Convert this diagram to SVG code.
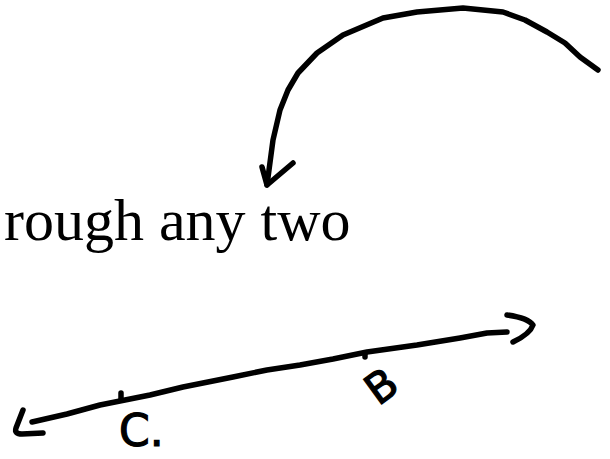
<svg xmlns="http://www.w3.org/2000/svg" width="610" height="459" viewBox="0 0 610 459">
<style>
.ink{fill:none;stroke:#000;stroke-width:5.5;stroke-linecap:round;stroke-linejoin:round}
.typed{font-family:"Liberation Serif","Times New Roman",serif;font-size:60px;fill:#000}
.hand{font-family:"DejaVu Sans","Liberation Sans",sans-serif;fill:#000;stroke:#000;stroke-width:1.2}
</style>
<rect width="610" height="459" fill="#fff"/>
<g id="caption">
<text class="typed" x="4" y="240">rough any two</text>
</g>
<g id="point-C">
<text class="hand" x="119" y="446" font-size="44">C.</text>
</g>
<g id="point-B">
<text class="hand" font-size="42" transform="translate(381,386) rotate(-36)" text-anchor="middle" dy="15">B</text>
</g>
<g id="connectors">
<path class="ink" d="M598,70 L580,57 L565,43 L547,32 L525,20 L503,12 L463,8 L417,12 L383,18 L343,35 L317,53 L298,73 L288,90 L280,110 L273,140 L267,185"/>
<path class="ink" d="M262,167 L267,185 L293,163"/>
<path class="ink" d="M32,422 L67,414 L100,405 L150,395 L183,387 L233,377 L267,370 L300,365 L333,359 L367,352 L417,345 L460,338 L487,333 L507,332"/>
<path class="ink" d="M23,410 L16,428 Q14,434 22,434 L43,433"/>
<path class="ink" d="M507,315 Q528,318 533,325 Q530,334 513,342"/>
<path class="ink" d="M121,393 L121,399"/>
<path class="ink" d="M365,353 L365,357"/>
</g>
</svg>
